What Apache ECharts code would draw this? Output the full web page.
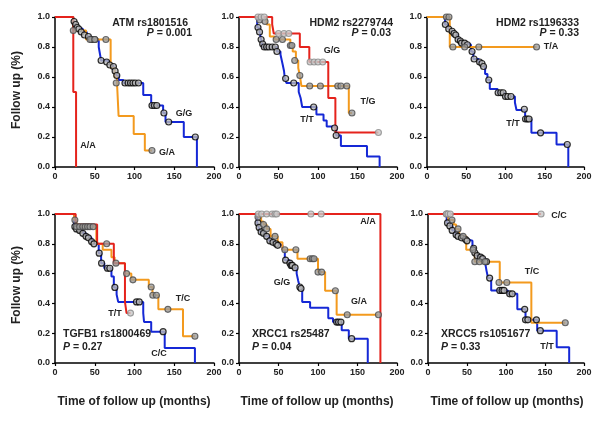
<!DOCTYPE html>
<html><head><meta charset="utf-8">
<script src="https://cdn.jsdelivr.net/npm/echarts@6/dist/echarts.min.js"></script>
<style>html,body{margin:0;padding:0;background:#fff}#c{width:600px;height:421px}</style>
</head><body><div id="c"></div><script>
// ---- axis ticks ----
const xTicks = [0, 50, 100, 150, 200];
const yTicks = [0, 0.2, 0.4, 0.6, 0.8, 1.0];

// ---- Panel 1: ATM rs1801516 ----
const atmAA = [[0,1],[23,0.5],[26.5,0]];
const atmAAc = [];
const atmGA = [[0,1],[23,0.91],[39,0.85],[70,0.66],[75,0.60],[78,0.56],[80,0.34],[99,0.22],[113,0.11],[122,0.11]];
const atmGAc = [[23,0.91],[44,0.85],[50,0.85],[64,0.85],[77,0.56],[122,0.11]];
const atmGG = [[0,1],[23,0.97],[25,0.95],[27,0.93],[30,0.92],[35,0.9],[40,0.87],[45,0.85],[55,0.8],[57,0.74],[58,0.71],[65,0.70],[69,0.68],[73,0.67],[75,0.64],[77,0.61],[80,0.58],[86,0.56],[111,0.48],[121,0.41],[136,0.36],[139,0.30],[162,0.2],[178.5,0]];
const atmGGc = [[24,0.97],[26,0.95],[28,0.93],[30,0.92],[33,0.9],[37,0.88],[42,0.87],[46,0.85],[50,0.85],[58,0.71],[65,0.70],[69,0.68],[73.5,0.67],[75.6,0.64],[77.7,0.61],[88,0.56],[92,0.56],[95,0.56],[98,0.56],[101,0.56],[105,0.56],[122,0.41],[125,0.41],[128,0.41],[137,0.36],[143,0.30],[176.5,0.2]];

// ---- Panel 2: HDM2 rs2279744 ----
const h1GG = [[0,1],[42,0.95],[44,0.89],[77,0.80],[89,0.70],[113,0.46],[122,0.23],[176.5,0.23]];
const h1GGc = [[24,1],[28,1],[32,1],[50,0.89],[57,0.89],[63,0.89],[90,0.70],[95,0.70],[100,0.70],[106,0.70],[176.5,0.23]];
const h1TG = [[0,1],[35,0.95],[39,0.87],[45,0.85],[65,0.81],[68,0.77],[72,0.71],[75,0.66],[77,0.61],[79,0.54],[139,0.36],[143,0.36]];
const h1TGc = [[26,0.98],[33,0.97],[47,0.85],[55,0.85],[65,0.81],[67,0.81],[70.5,0.71],[77,0.61],[89.5,0.54],[103,0.54],[125,0.54],[129,0.54],[136.5,0.54],[143,0.36]];
const h1TT = [[0,1],[23,0.93],[26,0.9],[28,0.85],[30,0.8],[48,0.77],[52.5,0.75],[55,0.69],[57,0.64],[58,0.59],[60,0.56],[75.6,0.5],[78,0.46],[80,0.40],[98,0.35],[107,0.31],[111,0.27],[123,0.21],[129,0.14],[162,0.07],[178,0]];
const h1TTc = [[24,0.93],[26,0.9],[28,0.85],[30,0.82],[32,0.8],[35,0.8],[38,0.8],[42,0.8],[46,0.8],[48,0.77],[59,0.59],[69.3,0.56],[94.5,0.40],[121,0.26],[123,0.21]];

// ---- Panel 3: HDM2 rs1196333 ----
const h2TA = [[0,1],[29,0.8],[139.6,0.8]];
const h2TAc = [[24.7,1],[28,1],[33,0.8],[48,0.8],[66,0.8],[139.6,0.8]];
const h2TT = [[0,1],[23,0.95],[27,0.92],[31,0.905],[34,0.89],[36,0.88],[39,0.85],[42,0.84],[44,0.826],[51,0.815],[56,0.77],[59,0.72],[66,0.70],[69,0.69],[71,0.67],[74,0.62],[77,0.58],[80,0.52],[90,0.495],[99,0.47],[112,0.43],[114,0.38],[125,0.32],[133,0.228],[165,0.15],[180,0]];
const h2TTc = [[23.4,0.95],[27.7,0.92],[32,0.905],[34.5,0.89],[36.6,0.88],[39.6,0.85],[42.5,0.84],[44,0.826],[48,0.826],[51.5,0.815],[57.4,0.77],[60,0.72],[67,0.70],[70,0.69],[72,0.67],[78.7,0.58],[90.6,0.495],[94,0.495],[97,0.495],[100,0.47],[103,0.47],[107,0.47],[124,0.385],[125.5,0.32],[128,0.32],[130,0.32],[144.7,0.228],[178.7,0.15]];

// ---- Panel 4: TGFB1 rs1800469 ----
const tgTT = [[0,1],[26,0.93],[53,0.80],[74,0.67],[88,0.41],[90,0.335],[95,0.335]];
const tgTTc = [[95,0.335]];
const tgTC = [[0,1],[24,0.96],[27,0.915],[52,0.80],[60,0.76],[71,0.71],[75,0.67],[88,0.60],[96,0.558],[118,0.51],[122.6,0.455],[130,0.36],[161,0.18],[176,0.18]];
const tgTCc = [[25,0.96],[27,0.915],[31,0.915],[35,0.915],[38,0.915],[41,0.915],[44,0.915],[48,0.915],[65,0.80],[76.6,0.67],[90,0.60],[98,0.558],[121,0.51],[123,0.455],[127.6,0.455],[142,0.36],[176,0.18]];
const tgCC = [[0,1],[24,0.93],[27,0.90],[31,0.89],[35,0.87],[39,0.85],[42,0.84],[46,0.815],[49,0.80],[55,0.737],[58,0.67],[62,0.636],[71,0.58],[74,0.507],[77.5,0.46],[79.5,0.41],[111,0.335],[112,0.275],[121,0.21],[138,0.1],[176,0]];
const tgCCc = [[25,0.915],[27,0.90],[31,0.89],[35,0.87],[39,0.85],[42,0.84],[46,0.815],[49,0.80],[55.6,0.737],[58.6,0.67],[66,0.636],[69,0.636],[75.3,0.507],[102.5,0.41],[106,0.41],[136,0.21]];

// ---- Panel 5: XRCC1 rs25487 ----
const x1AA = [[0,1],[179,0]];
const x1AAc = [[24.5,1],[28.7,1],[35,1],[42,1],[45.6,1],[47.7,1],[91,1],[104,1]];
const x1GA = [[0,1],[24,0.98],[28,0.95],[31,0.93],[35,0.9],[40,0.85],[49,0.81],[55,0.76],[74,0.70],[100,0.61],[109,0.485],[123.6,0.324],[176.5,0.324]];
const x1GAc = [[24,0.98],[31,0.93],[35,0.9],[45.6,0.85],[58,0.76],[72,0.76],[90,0.70],[93,0.70],[95,0.70],[100,0.61],[104.6,0.61],[122,0.485],[137,0.324],[176.5,0.324]];
const x1GG = [[0,1],[23,0.94],[25,0.91],[27,0.88],[30,0.87],[33,0.85],[38,0.82],[42,0.81],[46,0.8],[50,0.79],[55,0.76],[58,0.69],[64,0.67],[66,0.655],[70,0.64],[73,0.6],[75,0.55],[77,0.51],[78.5,0.50],[80,0.41],[90,0.37],[113,0.30],[119,0.275],[130,0.22],[139,0.163],[163,0]];
const x1GGc = [[24,0.94],[25.5,0.91],[28,0.88],[31,0.87],[35,0.85],[39,0.82],[43,0.81],[47,0.8],[49,0.79],[59,0.69],[64.5,0.67],[66,0.655],[67.5,0.655],[71,0.64],[77,0.51],[78.5,0.50],[123.6,0.275],[126,0.275],[129,0.275],[142.6,0.163]];

// ---- Panel 6: XRCC5 rs1051677 ----
const x5CC = [[0,1],[145,1]];
const x5CCc = [[23.5,1],[25.6,1],[28.6,1],[145,1]];
const x5TC = [[0,1],[26,0.96],[33,0.93],[36,0.9],[40,0.85],[49,0.76],[60,0.68],[92,0.54],[132.5,0.27],[176,0.27]];
const x5TCc = [[24,1],[30.8,0.96],[38.5,0.9],[45,0.85],[57.7,0.76],[60,0.68],[66,0.68],[73,0.68],[91,0.54],[101,0.54],[176,0.27]];
const x5TT = [[0,1],[24,0.94],[28,0.92],[31,0.89],[35,0.86],[38,0.85],[42,0.84],[47,0.83],[50,0.82],[57,0.77],[59.5,0.74],[62,0.72],[66,0.71],[69,0.70],[73,0.68],[75,0.62],[77,0.57],[81,0.487],[102.5,0.464],[114.5,0.36],[125,0.29],[140,0.217],[165,0.105],[181,0]];
const x5TTc = [[25,0.94],[28,0.92],[31,0.89],[36,0.86],[38.5,0.85],[43,0.84],[48,0.83],[50,0.82],[58.5,0.77],[60,0.74],[63,0.72],[67.5,0.71],[70,0.70],[75,0.68],[79,0.57],[92,0.487],[95,0.487],[97.4,0.487],[104.7,0.464],[108,0.464],[124,0.36],[125,0.29],[128,0.29],[139,0.29],[144,0.217]];

// ---- Text ----
const panelTitles = ['ATM rs1801516','HDM2 rs2279744','HDM2 rs1196333','TGFB1 rs1800469','XRCC1 rs25487','XRCC5 rs1051677'];
const pValues = ['0.001','0.03','0.33','0.27','0.04','0.33'];
const yTitle = 'Follow up (%)';
const xTitle = 'Time of follow up (months)';

// ---- styling ----
const RED = '#e5231c', ORANGE = '#f39a1e', BLUE = '#1528d6';
const FONT = 'Liberation Sans, Arial, sans-serif';
const markRed = {color:'#c9c9c9', borderColor:'#8a8a8a', borderWidth:1.1};
const markOrange = {color:'#9c9c9c', borderColor:'#4a4a4a', borderWidth:1.1};
const markBlue = {color:'#b8b8b8', borderColor:'#000', borderWidth:1.2};

const grids = [
  {left:55, top:17, width:159, height:150},
  {left:239, top:17, width:158, height:150},
  {left:427, top:17, width:157, height:150},
  {left:55, top:214, width:159, height:149},
  {left:239, top:214, width:158, height:149},
  {left:428, top:214, width:156, height:149}
];

const xAxes = grids.map((g,i)=>({
  type:'value', gridIndex:i, min:xTicks[0], max:xTicks[xTicks.length-1], interval:xTicks[1]-xTicks[0],
  axisLine:{show:true, onZero:false, lineStyle:{color:'#000', width:1.5}},
  axisTick:{show:true, inside:false, length:3, lineStyle:{color:'#000', width:1.2}},
  axisLabel:{fontFamily:FONT, fontWeight:'bold', fontSize:9, color:'#222', margin:5},
  splitLine:{show:false}
}));
const yAxes = grids.map((g,i)=>({
  type:'value', gridIndex:i, min:yTicks[0], max:yTicks[yTicks.length-1], interval:yTicks[1]-yTicks[0],
  axisLine:{show:true, onZero:false, lineStyle:{color:'#000', width:1.5}},
  axisTick:{show:true, inside:false, length:3, lineStyle:{color:'#000', width:1.2}},
  axisLabel:{fontFamily:FONT, fontWeight:'bold', fontSize:9, color:'#222', margin:5, formatter:v=>v.toFixed(1)},
  splitLine:{show:false}
}));

const series = [];
function curve(idx, steps, cens, color, ms, z){
  series.push({type:'line', xAxisIndex:idx, yAxisIndex:idx, data:steps, step:'end', showSymbol:false,
    lineStyle:{color:color, width:2}, z:z, silent:true, animation:false});
  if (cens.length) series.push({type:'scatter', xAxisIndex:idx, yAxisIndex:idx, data:cens, symbol:'circle', symbolSize:6,
    itemStyle:ms, z:z+5, silent:true, animation:false});
}
curve(0, atmGG, atmGGc, BLUE, markBlue, 2);
curve(0, atmGA, atmGAc, ORANGE, markOrange, 3);
curve(0, atmAA, atmAAc, RED, markRed, 4);
curve(1, h1TT, h1TTc, BLUE, markBlue, 2);
curve(1, h1TG, h1TGc, ORANGE, markOrange, 3);
curve(1, h1GG, h1GGc, RED, markRed, 4);
curve(2, h2TT, h2TTc, BLUE, markBlue, 2);
curve(2, h2TA, h2TAc, ORANGE, markOrange, 3);
curve(3, tgCC, tgCCc, BLUE, markBlue, 2);
curve(3, tgTC, tgTCc, ORANGE, markOrange, 3);
curve(3, tgTT, tgTTc, RED, markRed, 4);
curve(4, x1GG, x1GGc, BLUE, markBlue, 2);
curve(4, x1GA, x1GAc, ORANGE, markOrange, 3);
curve(4, x1AA, x1AAc, RED, markRed, 4);
curve(5, x5TT, x5TTc, BLUE, markBlue, 2);
curve(5, x5TC, x5TCc, ORANGE, markOrange, 3);
curve(5, x5CC, x5CCc, RED, markRed, 4);

const graphic = [];
function txt(x, y, text, size, align, extra){
  graphic.push(Object.assign({type:'text', x:x, y:y, z:100, silent:true,
    style:{text:text, fontFamily:FONT, fontWeight:'bold', fontSize:size, fill:'#222', align:align||'center', verticalAlign:'middle'}}, extra||{}));
}
function pText(x, y, val, align){
  graphic.push({type:'text', x:x, y:y, z:100, silent:true,
    style:{text:'{i|P} = ' + val, fontFamily:FONT, fontWeight:'bold', fontSize:10.5, fill:'#222', align:align, verticalAlign:'middle',
      rich:{i:{fontStyle:'italic', fontWeight:'bold', fontFamily:FONT, fontSize:10.5, fill:'#222'}}}});
}
// panel titles + p-values
txt(188, 23, panelTitles[0], 10.5, 'right'); pText(192, 33, pValues[0], 'right');
txt(393, 23, panelTitles[1], 10.5, 'right'); pText(391, 33, pValues[1], 'right');
txt(579, 23, panelTitles[2], 10.5, 'right'); pText(579, 33, pValues[2], 'right');
txt(63, 334, panelTitles[3], 10.5, 'left'); pText(63, 347, pValues[3], 'left');
txt(252, 334, panelTitles[4], 10.5, 'left'); pText(252, 347, pValues[4], 'left');
txt(441, 334, panelTitles[5], 10.5, 'left'); pText(441, 347, pValues[5], 'left');
// curve labels
txt(88, 146, 'A/A', 9); txt(167, 153, 'G/A', 9); txt(184, 114, 'G/G', 9);
txt(332, 51, 'G/G', 9); txt(368, 102, 'T/G', 9); txt(307, 120, 'T/T', 9);
txt(551, 47, 'T/A', 9); txt(513, 124, 'T/T', 9);
txt(115, 314, 'T/T', 9); txt(183, 299, 'T/C', 9); txt(159, 354, 'C/C', 9);
txt(368, 222, 'A/A', 9); txt(282, 283, 'G/G', 9); txt(359, 302, 'G/A', 9);
txt(559, 216, 'C/C', 9); txt(532, 272, 'T/C', 9); txt(547, 347, 'T/T', 9);
// axis titles
txt(17, 90, yTitle, 12, 'center', {rotation:Math.PI/2});
txt(17, 285, yTitle, 12, 'center', {rotation:Math.PI/2});
txt(134, 402, xTitle, 12); txt(317, 402, xTitle, 12); txt(507, 402, xTitle, 12);

const chart = echarts.init(document.getElementById('c'), null, {renderer:'canvas'});
chart.setOption({
  animation:false, backgroundColor:'#fff',
  grid:grids, xAxis:xAxes, yAxis:yAxes, series:series, graphic:graphic
});
</script></body></html>
